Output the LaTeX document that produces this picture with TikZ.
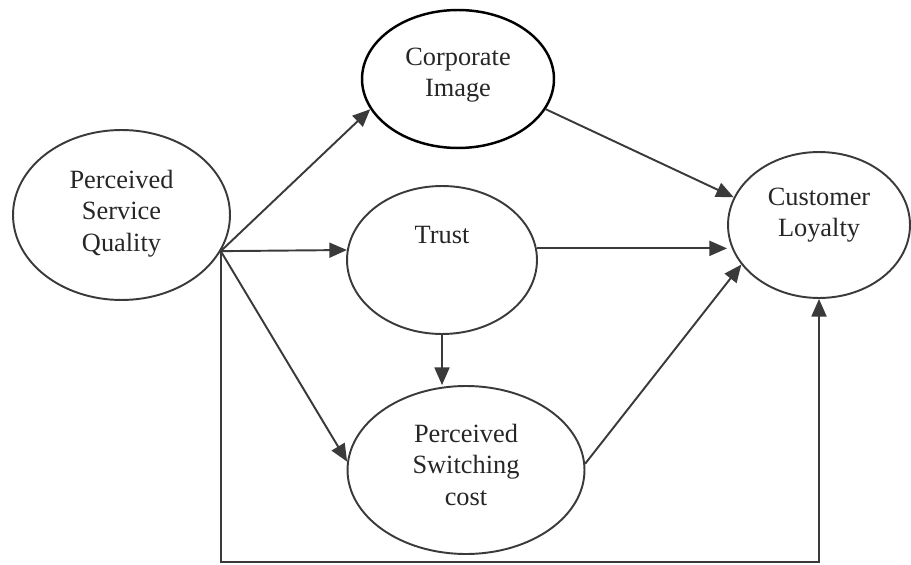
\documentclass[tikz,border=0pt]{standalone}
\usepackage{fontspec}
\setmainfont{Liberation Serif}
\definecolor{lineGray}{HTML}{3A3A3A}
\definecolor{inkGray}{HTML}{262626}
\usetikzlibrary{shapes.geometric,arrows.meta}

\begin{document}
\begin{tikzpicture}[x=0.02cm, y=-0.02cm,
    ovalbox/.style={ellipse, draw=lineGray, line width=1.1pt, inner sep=0pt,
                    align=center, text=inkGray, text height=0pt, text depth=0pt,
                    font=\fontsize{15}{18}\selectfont},
    arr/.style={-{Triangle[length=10pt,width=8.5pt]}, line width=1.1pt, color=lineGray}
  ]
  \useasboundingbox (0,0) rectangle (911,564);
  \node[ovalbox, minimum width=4.34cm, minimum height=3.4cm, text height=41.4pt] (psq) at (121.5,215) {Perceived\\Service\\Quality};
  \node[ovalbox, draw=black, line width=1.4pt, minimum width=3.84cm, minimum height=2.76cm, text height=20.2pt] (corp) at (458,79) {Corporate\\Image};
  \node[ovalbox, minimum width=3.8cm, minimum height=2.96cm, text depth=19.3pt] (trust) at (442,260) {Trust};
  \node[ovalbox, minimum width=4.74cm, minimum height=3.36cm, text height=40.2pt] (psc) at (466,470) {Perceived\\Switching\\cost};
  \node[ovalbox, minimum width=3.64cm, minimum height=2.92cm, text height=13.4pt] (loyal) at (819,225) {Customer\\Loyalty};
  \coordinate (base) at (0,562);
  % paths out of service quality
  \draw[arr] (psq.-20) -- (corp.199);
  \draw[arr] (psq.-20) -- (trust.174);
  \draw[arr] (psq.-20) -- (psc.176);
  \draw[arr] (psq.-20) -- (psq.-20 |- base) -| (loyal.south);
  % paths into loyalty
  \draw[arr] (corp.-19) -- (loyal.162);
  \draw[arr] (trust.7) -- (trust.7 -| loyal.west);
  \draw[arr] (psc.3) -- (loyal.207);
  \draw[arr] (trust.south) -- (trust.south |- psc.north);
\end{tikzpicture}
\end{document}
